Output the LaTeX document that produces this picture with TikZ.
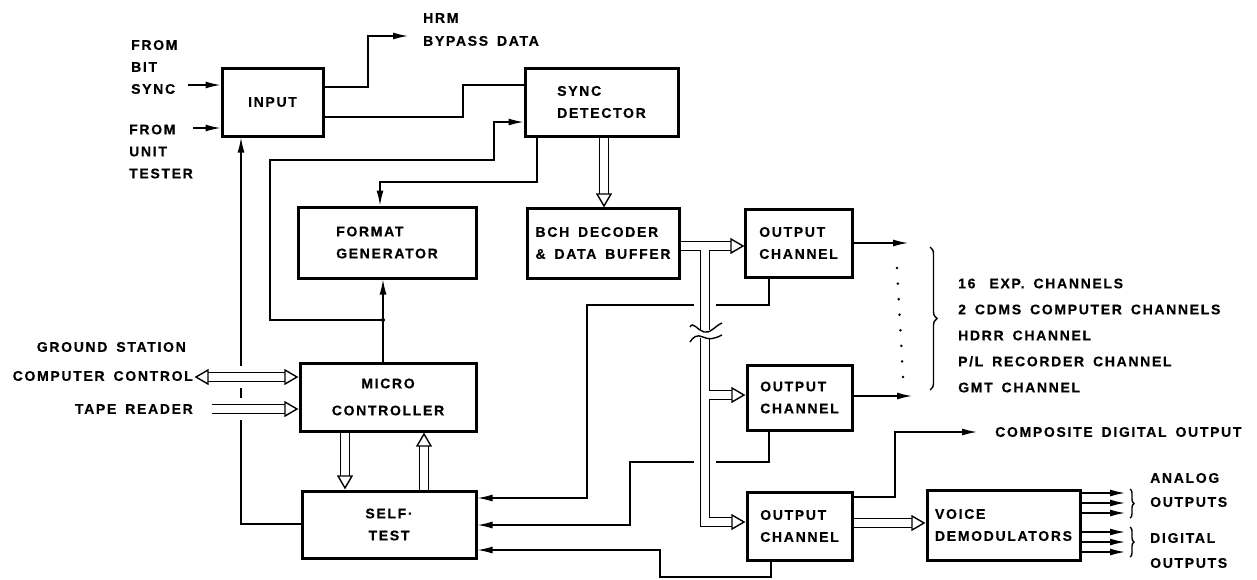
\documentclass[tikz,border=0pt]{standalone}
\usepackage{fontspec}
\setmainfont{Liberation Sans}[LetterSpace=12,WordSpace=1.6,BoldFeatures={FakeBold=0.4}]
\usetikzlibrary{arrows.meta,decorations.pathreplacing,calc}
\newcommand\lblfont{\fontsize{14}{22}\selectfont\bfseries}

\tikzset{
  pics/bushead/.style={code={%
    \filldraw[fill=white,line width=1.4pt,line join=miter]
      (0,0) -- (-12pt,7pt) -- (-12pt,-7pt) -- cycle;}},
}

\begin{document}
\begin{tikzpicture}[x=1pt,y=-1pt,
  lbl/.style={font=\lblfont, inner sep=0pt, align=left},
  blk/.style={draw, line width=3pt, inner sep=0pt, font=\lblfont, align=left},
  wire/.style={line width=1.4pt},
  arr/.style={wire, -{Latex[length=15pt,width=7pt]}},
  bus/.style={draw=black, line width=1.4pt, double=white, double distance=8pt, line join=miter},
  gapw/.style={white, line width=5pt},
]
% canvas
\fill[white] (0,0) rectangle (1257,579);
\useasboundingbox (0,0) rectangle (1257,579);

% ---------- blocks ----------
\node[blk, minimum width=101pt, minimum height=68pt] (input) at (272.5,102) {INPUT};
\node[blk, minimum width=153pt, minimum height=68pt] (sync) at (601.5,102) {SYNC\\DETECTOR};
\node[blk, minimum width=178pt, minimum height=71pt] (fmt) at (387,242.5) {FORMAT\\GENERATOR};
\node[blk, minimum width=152pt, minimum height=70pt] (bch) at (603,243) {BCH DECODER\\\& DATA BUFFER};
\node[blk, minimum width=107pt, minimum height=68pt] (out1) at (798.5,243) {OUTPUT\\CHANNEL};
\node[blk, minimum width=105pt, minimum height=65pt] (out2) at (799.5,397.5) {OUTPUT\\CHANNEL};
\node[blk, minimum width=105pt, minimum height=68pt] (out3) at (799.5,526) {OUTPUT\\CHANNEL};
\node[blk, align=center, minimum width=176pt, minimum height=68pt] (micro) at (388,397) {MICRO\\[5pt]CONTROLLER};
\node[blk, align=center, minimum width=174pt, minimum height=67pt] (self) at (389,524.5) {SELF·\\TEST};
\node[blk, minimum width=153pt, minimum height=70pt] (voice) at (1003.5,525) {VOICE\\DEMODULATORS};

% ---------- labels ----------
\node[lbl, anchor=west] (bitsync) at (131,67) {FROM\\BIT\\SYNC};
\node[lbl, anchor=west] (unittest) at (129,151.5) {FROM\\UNIT\\TESTER};
\node[lbl, anchor=west, font=\fontsize{14}{23}\selectfont\bfseries] (hrm) at (423,29.5) {HRM\\BYPASS DATA};
\node[lbl, anchor=east] (gs) at (186,347) {GROUND STATION};
\node[lbl, anchor=east] (cc) at (193,376) {COMPUTER CONTROL};
\node[lbl, anchor=east] (tape) at (193,409) {TAPE READER};
\node[lbl, anchor=west, font=\fontsize{14}{26}\selectfont\bfseries] (chlist) at (958,335.5)
  {16\hspace{14pt}EXP. CHANNELS\\2 CDMS COMPUTER CHANNELS\\HDRR CHANNEL\\P/L RECORDER CHANNEL\\GMT CHANNEL};
\node[lbl, anchor=west] (comp) at (995,432) {COMPOSITE DIGITAL OUTPUT};
\node[lbl, anchor=west, font=\fontsize{14}{24}\selectfont\bfseries] (analog) at (1150,490) {ANALOG\\OUTPUTS};
\node[lbl, anchor=west, font=\fontsize{14}{25}\selectfont\bfseries] (digital) at (1150,550.5) {DIGITAL\\OUTPUTS};

% ---------- free ends and bends ----------
\coordinate (bsin) at (188,85);
\coordinate (utin) at (193,128);
\coordinate (hrmend) at (408,36);
\coordinate (jn) at (383,320);
\coordinate (o1end) at (908,243);
\coordinate (o2end) at (912,396);
\coordinate (compend) at (977,432);

% ---------- single-line connectors ----------
\draw[arr] (bsin) -- (input.west |- bsin);
\draw[arr] (utin) -- (input.west |- utin);
\draw[arr] (input.east |- 0,87) -| (368,36) -- (hrmend);
\draw[wire] (input.east |- 0,117) -| (463,85) -- (sync.west |- 0,85);
\draw[arr] (micro.north -| jn) -- (fmt.south -| jn);
\fill (jn) circle (2pt);
\draw[arr] (jn) -| (270,160) -| (494,122) -- (sync.west |- 0,122);
\draw[arr] (sync.south -| 537,0) |- (380,182) -- (fmt.north -| 380,0);
\draw[arr] (self.west |- 0,524) -| (input.south -| 241,0);
\draw[arr] (out1.south -| 769,0) |- (587,305) |- (self.east |- 0,498);
\draw[arr] (out2.south -| 769,0) |- (630,462) |- (self.east |- 0,525);
\draw[arr] (out3.south -| 771,0) |- (660,577) |- (self.east |- 0,550);
\draw[arr] (out1.east |- o1end) -- (o1end);
\draw[arr] (out2.east |- o2end) -- (o2end);
\draw[arr] (out3.east |- 0,497) -| (895,432) -- (compend);
\foreach \y in {493,503,513,532,542,552}
  \draw[arr] (voice.east |- 0,\y) -- (1125,\y);

% breaks where the lines pass under the buses
\draw[gapw] (241,366) -- (241,388);
\draw[gapw] (241,398) -- (241,420);
\draw[gapw] (694,305) -- (716,305);
\draw[gapw] (694,462) -- (716,462);

% ---------- buses ----------
% sync detector -> BCH decoder
\draw[bus] (sync.south -| 604,0) -- (604,194);
\pic[rotate=-90] at (604,206) {bushead};
% BCH decoder -> output channels (trunk with break)
\draw[bus] (bch.east |- 0,246) -- (731,246)
  (705,246) -- (705,330)
  (705,338) -- (705,522) -- (732,522)
  (705,395) -- (732,395);
\pic at (743,246) {bushead};
\pic at (744,395) {bushead};
\pic at (744,522) {bushead};
\draw[wire] (690,327) .. controls (693,321) and (697,330) .. (704,332)
  .. controls (710,334) and (715,326) .. (722,323);
\draw[wire] (690,342) .. controls (693,337) and (697,334) .. (703,337)
  .. controls (709,340) and (714,339) .. (722,335);
% ground station <-> micro controller
\draw[bus] (208,377) -- (285,377);
\pic[rotate=180] at (196,377) {bushead};
\pic at (297,377) {bushead};
% tape reader -> micro controller
\draw[bus] (212,409) -- (285,409);
\pic at (297,409) {bushead};
% micro controller <-> self test
\draw[bus] (micro.south -| 345,0) -- (345,476);
\pic[rotate=-90] at (345,488) {bushead};
\draw[bus] (self.north -| 424,0) -- (424,446);
\pic[rotate=90] at (424,434) {bushead};
% output channel -> voice demodulators
\draw[bus] (out3.east |- 0,523) -- (912,523);
\pic at (924,523) {bushead};

% ---------- channel list ----------
\foreach \i in {0,...,7}
  \fill ({897+6*\i/7},{268+109*\i/7}) circle (1.4pt);
\draw[wire, decorate, decoration={brace, amplitude=7pt}] (930,247) -- (930,390);
\draw[wire, decorate, decoration={brace, amplitude=4pt}] (1130,489) -- (1130,518);
\draw[wire, decorate, decoration={brace, amplitude=4pt}] (1130,527) -- (1130,557);
\end{tikzpicture}
\end{document}
